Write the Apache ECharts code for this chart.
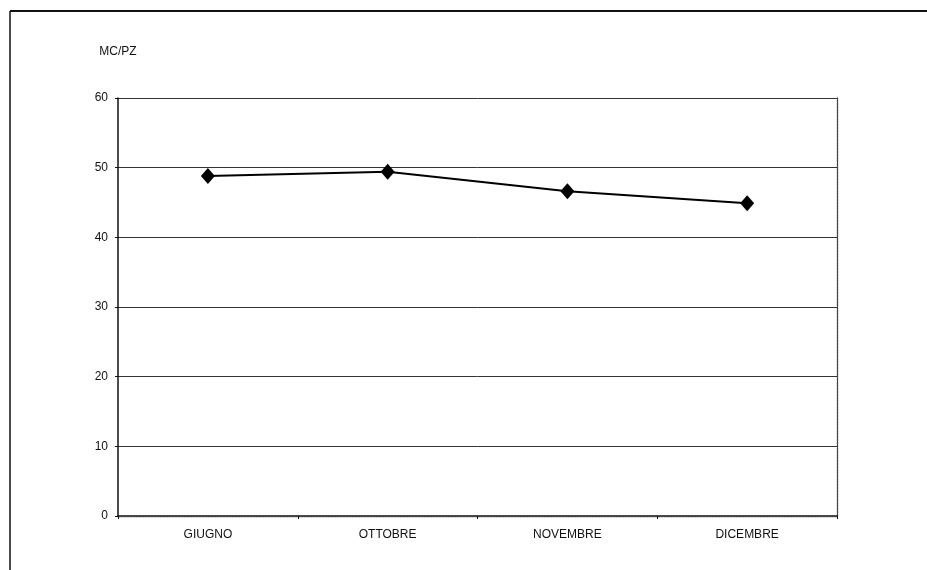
<!DOCTYPE html>
<html>
<head>
<meta charset="utf-8">
<script src="https://cdn.jsdelivr.net/npm/echarts@6/dist/echarts.min.js"></script>
<style>
html,body{margin:0;padding:0;background:#fff;}
#c{width:927px;height:570px;}
</style>
</head>
<body>
<div id="c"></div>
<script>
const categories = ['GIUGNO', 'OTTOBRE', 'NOVEMBRE', 'DICEMBRE'];
const values = [48.8, 49.4, 46.6, 44.9];
const yTicks = [0, 10, 20, 30, 40, 50, 60];
const yName = 'MC/PZ';

const chart = echarts.init(document.getElementById('c'), null, {renderer: 'canvas'});
const font = 'Liberation Sans, Arial, sans-serif';
chart.setOption({
  animation: false,
  backgroundColor: '#fff',
  grid: {left: 118, right: 90, top: 98, bottom: 54},
  graphic: [
    {type: 'line', shape: {x1: 10, y1: 11, x2: 927, y2: 11}, style: {stroke: '#111', lineWidth: 2}},
    {type: 'line', shape: {x1: 10, y1: 11, x2: 10, y2: 570}, style: {stroke: '#111', lineWidth: 1.5}}
  ],
  xAxis: [{
    type: 'category',
    data: categories,
    boundaryGap: true,
    axisLine: {lineStyle: {color: '#111', width: 1.5}},
    axisTick: {show: true, length: 3, lineStyle: {color: '#111'}},
    axisLabel: {color: '#111', fontFamily: font, fontSize: 12, margin: 13}
  }, {
    type: 'category',
    data: categories,
    position: 'top',
    axisLine: {show: true, lineStyle: {color: '#444', width: 1.3, type: [2, 1]}},
    axisTick: {show: false},
    axisLabel: {show: false}
  }],
  yAxis: [{
    type: 'value',
    min: yTicks[0],
    max: yTicks[yTicks.length - 1],
    interval: 10,
    name: yName,
    nameLocation: 'end',
    nameGap: 40,
    nameTextStyle: {color: '#111', fontFamily: font, fontSize: 12, align: 'center'},
    axisLine: {show: true, lineStyle: {color: '#111', width: 1.5}},
    axisTick: {show: true, length: 3, lineStyle: {color: '#111'}},
    axisLabel: {color: '#111', fontFamily: font, fontSize: 12, margin: 10},
    splitLine: {show: true, lineStyle: {color: '#333', width: 1}}
  }, {
    type: 'value',
    min: yTicks[0],
    max: yTicks[yTicks.length - 1],
    interval: 10,
    position: 'right',
    axisLine: {show: true, lineStyle: {color: '#444', width: 1.3, type: [2, 1]}},
    axisTick: {show: false},
    axisLabel: {show: false},
    splitLine: {show: false}
  }],
  series: [{
    type: 'line',
    data: values,
    symbol: 'diamond',
    symbolSize: [14, 16],
    lineStyle: {color: '#000', width: 2},
    itemStyle: {color: '#000'}
  }]
});
</script>
</body>
</html>
